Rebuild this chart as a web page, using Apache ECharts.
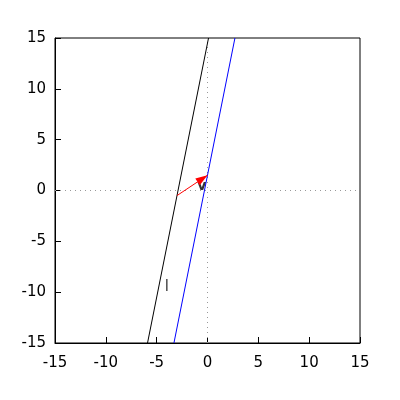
<!DOCTYPE html>
<html><head><meta charset="utf-8">
<script src="https://cdn.jsdelivr.net/npm/echarts@6/dist/echarts.min.js"></script>
<style>html,body{margin:0;padding:0;background:#fff}#c{width:400px;height:400px}</style>
</head><body><div id="c"></div>
<script>
var axisTicks = [-15, -10, -5, 0, 5, 10, 15];
var lineL = [[-5.9, -15], [0.1, 15]];
var lineV = [[-3.3, -15], [2.7, 15]];
var arrowStart = [-3, -0.5];
var arrowEnd = [0, 1.5];
var labelL = [-4, -9.5];
var labelV = [-0.55, 0.4];

var chart = echarts.init(document.getElementById('c'), null, {renderer: 'canvas'});
var font = 'DejaVu Sans';
function axis(pos) {
  return {
    type: 'value', min: axisTicks[0], max: axisTicks[axisTicks.length - 1], interval: 5,
    position: pos,
    axisLine: {show: true, onZero: false, lineStyle: {color: '#000', width: 1}},
    axisTick: {show: true, inside: true, length: 6, lineStyle: {color: '#000'}},
    axisLabel: {color: '#000', fontFamily: font, fontSize: 15, margin: pos === 'left' ? 9 : 13},
    splitLine: {show: false}
  };
}
chart.setOption({
  animation: false,
  grid: {left: 55, right: 40, top: 38, bottom: 57, show: true, borderColor: '#000', borderWidth: 1},
  xAxis: axis('bottom'),
  yAxis: axis('left'),
  series: [
    {type: 'line', data: [[axisTicks[0], 0], [axisTicks[6], 0]], symbol: 'none', silent: true,
     lineStyle: {color: '#999', width: 1, type: [1, 4]}},
    {type: 'line', data: [[0, axisTicks[0]], [0, axisTicks[6]]], symbol: 'none', silent: true,
     lineStyle: {color: '#999', width: 1, type: [1, 4]}},
    {type: 'line', data: lineL, symbol: 'none', lineStyle: {color: '#000', width: 1}},
    {type: 'line', data: lineV, symbol: 'none', lineStyle: {color: '#0000ff', width: 1},
     markLine: {silent: true, symbol: ['none', 'triangle'], symbolSize: [8, 12], symbolOffset: [0, [0, 6]], label: {show: false},
       lineStyle: {color: '#ff0000', width: 1, type: 'solid'},
       data: [[{coord: arrowStart}, {coord: arrowEnd}]]}},
    {type: 'scatter', symbolSize: 0, data: [labelL],
     label: {show: true, position: 'inside', formatter: 'l', color: '#000', fontFamily: font, fontSize: 15}},
    {type: 'scatter', symbolSize: 0, data: [labelV],
     label: {show: true, position: 'inside', formatter: 'v', color: '#000', fontFamily: font, fontSize: 14, fontWeight: 'bold'}}
  ]
});
</script></body></html>
